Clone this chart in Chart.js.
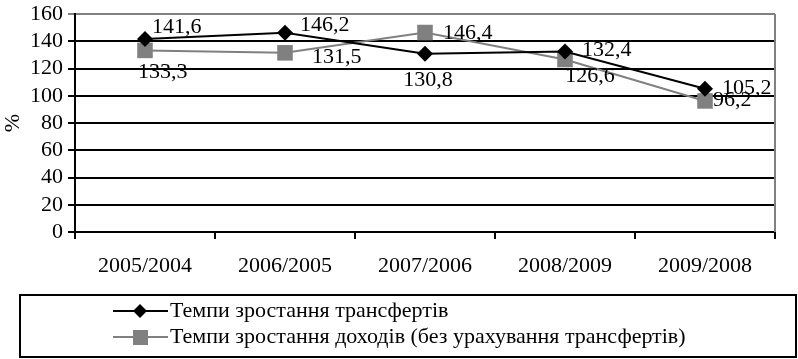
<!DOCTYPE html>
<html>
<head>
<meta charset="utf-8">
<script src="https://cdn.jsdelivr.net/npm/chart.js@4.4.1/dist/chart.umd.min.js"></script>
<style>
  html, body { margin: 0; padding: 0; background: #ffffff; }
  #wrap { width: 798px; height: 359px; position: relative; }
</style>
</head>
<body>
<div id="wrap"><canvas id="chart" width="798" height="359"></canvas></div>
<script>
// Periods compared (year-over-year growth)
const categories = ['2005/2004', '2006/2005', '2007/2006', '2008/2009', '2009/2008'];

// Growth rates, %
const transfersGrowth = [141.6, 146.2, 130.8, 132.4, 105.2];
const incomeGrowth = [133.3, 131.5, 146.4, 126.6, 96.2];

const seriesNames = [
  'Темпи зростання трансфертів',
  'Темпи зростання доходів (без урахування трансфертів)'
];

const yTicks = [0, 20, 40, 60, 80, 100, 120, 140, 160];

const FONT = '"Liberation Serif", "Times New Roman", serif';
const FONT_SIZE = 22;
const GRAY = '#808080';

// Where each value label sits relative to its point: [dx, dy, textAlign]
const labelPlacement = [
  [[7, -12, 'left'], [15, -8, 'left'], [3, 26, 'center'], [17, -1, 'left'], [17, 0, 'left']],
  [[-7, 22, 'left'], [27, 4, 'left'], [18, 1, 'left'], [25, 17, 'center'], [8, -1, 'left']]
];

const fmt = v => v.toFixed(1).replace('.', ',');

const valueLabels = {
  id: 'valueLabels',
  afterDatasetsDraw(chart) {
    const ctx = chart.ctx;
    ctx.save();
    ctx.font = FONT_SIZE + 'px ' + FONT;
    ctx.fillStyle = '#000';
    ctx.textBaseline = 'middle';
    chart.data.datasets.forEach((ds, di) => {
      const meta = chart.getDatasetMeta(di);
      meta.data.forEach((pt, i) => {
        const [dx, dy, align] = labelPlacement[di][i];
        ctx.textAlign = align;
        ctx.fillText(fmt(ds.data[i]), pt.x + dx, pt.y + dy);
      });
    });
    ctx.restore();
  }
};

// Gray frame on the right of the plot area
const plotFrame = {
  id: 'plotFrame',
  beforeDatasetsDraw(chart) {
    const { ctx, chartArea: a } = chart;
    ctx.save();
    ctx.strokeStyle = GRAY;
    ctx.lineWidth = 2;
    ctx.beginPath();
    ctx.moveTo(a.right, a.top);
    ctx.lineTo(a.right, a.bottom);
    ctx.stroke();
    ctx.restore();
  }
};

// Boxed legend below the axis
const boxedLegend = {
  id: 'boxedLegend',
  afterDraw(chart) {
    const ctx = chart.ctx;
    ctx.save();
    ctx.strokeStyle = '#000';
    ctx.lineWidth = 2;
    ctx.strokeRect(20, 295, 776, 62);
    const rows = [311, 337];
    chart.data.datasets.forEach((ds, di) => {
      const y = rows[di];
      ctx.strokeStyle = ds.borderColor;
      ctx.lineWidth = 2;
      ctx.beginPath();
      ctx.moveTo(113, y);
      ctx.lineTo(168, y);
      ctx.stroke();
      ctx.fillStyle = ds.pointBackgroundColor;
      ctx.beginPath();
      if (ds.pointStyle === 'rectRot') {
        ctx.moveTo(140, y - 7);
        ctx.lineTo(147, y);
        ctx.lineTo(140, y + 7);
        ctx.lineTo(133, y);
        ctx.closePath();
      } else {
        ctx.rect(133, y - 7, 15, 15);
      }
      ctx.fill();
      ctx.fillStyle = '#000';
      ctx.font = FONT_SIZE + 'px ' + FONT;
      ctx.textAlign = 'left';
      ctx.textBaseline = 'middle';
      ctx.fillText(ds.label, 170, y);
    });
    ctx.restore();
  }
};

new Chart(document.getElementById('chart'), {
  type: 'line',
  data: {
    labels: categories,
    datasets: [
      {
        label: seriesNames[0],
        data: transfersGrowth,
        borderColor: '#000000',
        borderWidth: 2,
        pointStyle: 'rectRot',
        pointRadius: 8,
        pointHoverRadius: 8,
        pointBackgroundColor: '#000000',
        pointBorderColor: '#000000',
        pointBorderWidth: 0,
        tension: 0,
        order: 1
      },
      {
        label: seriesNames[1],
        data: incomeGrowth,
        borderColor: GRAY,
        borderWidth: 2,
        pointStyle: 'rect',
        pointRadius: 11,
        pointHoverRadius: 11,
        pointBackgroundColor: GRAY,
        pointBorderColor: GRAY,
        pointBorderWidth: 0,
        tension: 0,
        order: 2
      }
    ]
  },
  options: {
    responsive: false,
    animation: false,
    events: [],
    layout: { padding: { left: 0, right: 23, top: 14, bottom: 77 } },
    plugins: {
      legend: { display: false },
      tooltip: { enabled: false }
    },
    scales: {
      x: {
        offset: true,
        afterFit(scale) { scale.height = 50; scale.paddingLeft = 0; scale.paddingRight = 0; },
        grid: {
          offset: true,
          drawOnChartArea: false,
          drawTicks: true,
          tickLength: 7,
          color: '#000',
          lineWidth: 2
        },
        border: { color: '#000', width: 2 },
        ticks: {
          color: '#000',
          font: { family: FONT, size: FONT_SIZE },
          padding: 14,
          maxRotation: 0,
          autoSkip: false
        }
      },
      y: {
        min: 0,
        max: 160,
        afterFit(scale) { scale.width = 75; scale.paddingTop = 0; scale.paddingBottom = 0; },
        afterBuildTicks(scale) { scale.ticks = yTicks.map(v => ({ value: v })); },
        grid: {
          color: ctx => (ctx.tick && ctx.tick.value === 160 ? GRAY : '#000'),
          lineWidth: 2,
          tickLength: 7,
          drawTicks: true
        },
        border: { color: '#000', width: 2 },
        title: {
          display: true,
          text: '%',
          color: '#000',
          font: { family: FONT, size: FONT_SIZE },
          padding: 0
        },
        ticks: {
          color: '#000',
          font: { family: FONT, size: FONT_SIZE },
          padding: 5,
          autoSkip: false
        }
      }
    }
  },
  plugins: [plotFrame, valueLabels, boxedLegend]
});
</script>
</body>
</html>
